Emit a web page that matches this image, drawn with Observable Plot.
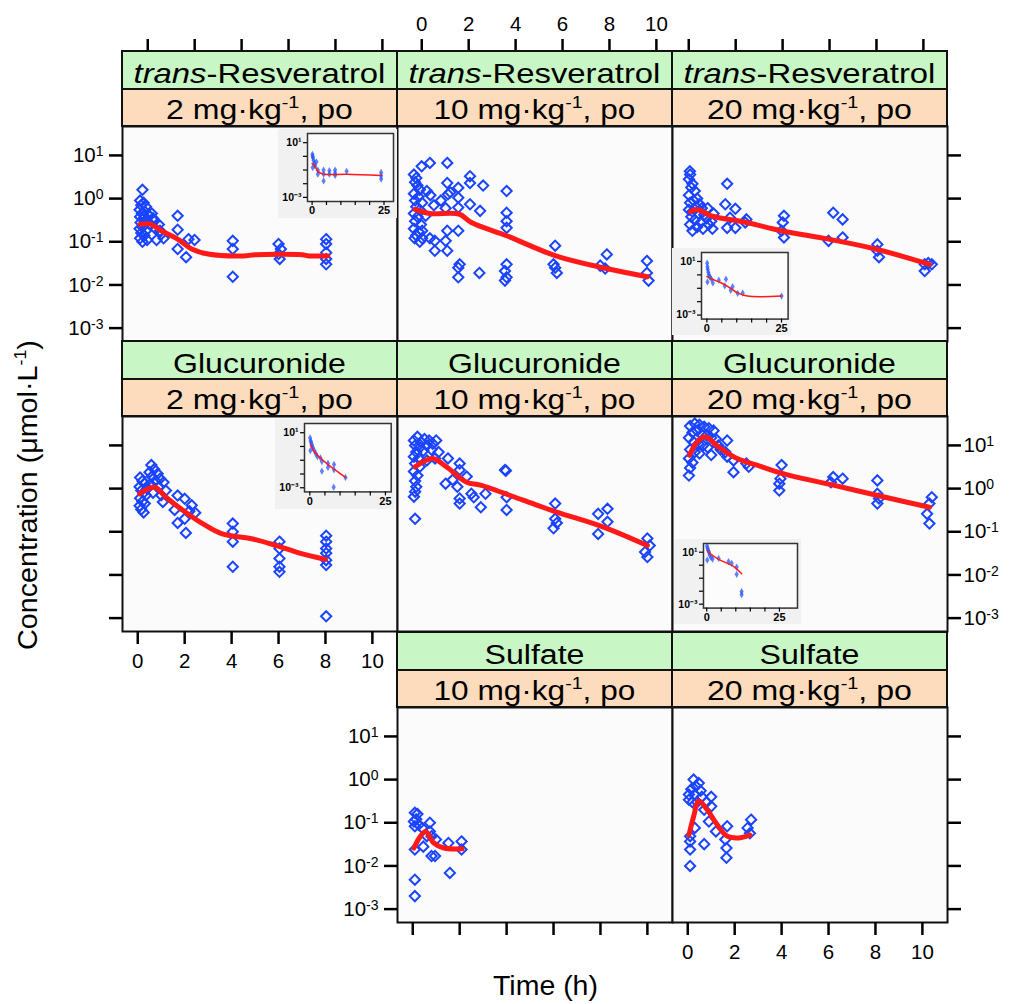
<!DOCTYPE html>
<html><head><meta charset="utf-8">
<script src="https://cdn.jsdelivr.net/npm/d3@7"></script>
<script src="https://cdn.jsdelivr.net/npm/@observablehq/plot@0.6"></script>
<style>
html,body{margin:0;padding:0;background:#fff;}
#root{position:relative;width:1014px;height:1004px;overflow:hidden;font-family:"Liberation Sans",Arial,sans-serif;}
#root svg{position:absolute;}
</style></head><body><div id="root"></div>
<script>
// ---------- tick values / labels ----------
const xTicks = [0, 2, 4, 6, 8, 10];
const yTicks = [0.001, 0.01, 0.1, 1, 10];
const insetXTicks = [0, 5, 10, 15, 20, 25];
const compounds = ["trans-Resveratrol", "Glucuronide", "Sulfate"];
const doses = ["2", "10", "20"];

// ---------- observed concentrations [time h, µmol/L] ----------
const resv2Obs = [[0.2,1.6],[0.1,0.9],[0.25,0.8],[0.15,0.7],[0.35,0.65],[0.08,0.55],[0.3,0.5],[0.18,0.45],[0.45,0.42],[0.1,0.38],[0.25,0.35],[0.4,0.3],[0.12,0.28],[0.3,0.25],[0.2,0.22],[0.08,0.2],[0.35,0.18],[0.15,0.16],[0.28,0.14],[0.1,0.12],[0.4,0.11],[0.2,0.1],
 [0.6,0.45],[0.7,0.3],[0.55,0.25],[0.75,0.2],[0.9,0.25],[1.0,0.15],[1.1,0.12],[0.8,0.11],[0.65,0.35],[0.95,0.18],
 [1.7,0.4],[1.7,0.19],[1.7,0.068],[2.06,0.044],[2.16,0.115],[2.42,0.11],
 [4.05,0.105],[4.05,0.068],[4.05,0.0155],
 [6.0,0.089],[6.1,0.068],[6.0,0.052],[6.05,0.04],
 [8.03,0.115],[8.03,0.089],[8.03,0.056],[8.03,0.04],[8.03,0.03]];
const resv10Obs = [[0.05,3.6],[0.15,3.0],[0.1,2.4],[0.2,2.0],[0.3,1.6],[0.05,1.3],[0.25,1.1],[0.1,0.9],[0.4,0.8],[0.15,0.65],[0.3,0.55],[0.05,0.45],[0.2,0.38],[0.1,0.3],[0.35,0.25],[0.05,0.2],[0.25,0.17],[0.15,0.14],[0.08,0.12],[0.3,0.1],
 [0.38,5.6],[0.73,6.7],[0.6,1.5],[0.75,1.2],[0.9,0.7],[1.2,0.9],[1.4,0.6],[0.55,0.4],
 [1.47,6.7],[1.47,2.3],[1.5,1.26],[1.6,1.4],[1.94,1.78],[1.94,1.05],[1.94,0.62],[2.44,3.3],[2.44,2.3],[3.0,2.0],[2.87,0.52],[2.44,0.74],
 [1.94,0.18],[1.47,0.18],[1.4,0.105],[0.94,0.105],[0.94,0.062],[1.47,0.062],[0.73,0.12],[0.4,0.12],[0.4,0.18],
 [2.0,0.03],[1.94,0.025],[1.94,0.015],[2.84,0.019],
 [4.0,1.5],[4.0,0.47],[4.0,0.3],[4.0,0.21],[4.0,0.03],[3.93,0.021],[4.0,0.015],[3.93,0.0126],
 [6.07,0.081],[6.0,0.03],[6.07,0.025],[6.14,0.019],
 [8.27,0.051],[7.99,0.028],[8.2,0.024],
 [9.98,0.036],[9.98,0.019],[10.05,0.0126]];
const resv20Obs = [[0.09,4.3],[0.1,3.6],[0.05,2.8],[0.2,2.2],[0.15,1.8],[0.3,1.5],[0.05,1.2],[0.4,1.0],[0.25,0.9],[0.1,0.8],[0.5,0.75],[0.35,0.65],[0.6,0.6],[0.05,0.55],[0.2,0.5],[0.45,0.45],[0.7,0.42],[0.15,0.38],[0.8,0.35],[0.3,0.32],[0.55,0.28],[0.1,0.25],[0.9,0.25],[0.4,0.22],[0.65,0.2],[0.2,0.18],[1.0,0.3],[1.1,0.45],[0.85,0.6],[1.05,0.2],
 [1.68,2.2],[1.6,0.74],[2.03,0.58],[1.68,0.21],[2.03,0.21],[1.8,0.36],
 [2.5,0.33],[2.45,0.28],
 [4.1,0.4],[4.05,0.28],[4.0,0.18],[4.1,0.126],
 [6.2,0.47],[6.6,0.33],[6.0,0.105],[6.6,0.126],
 [8.08,0.087],[8.08,0.062],[8.15,0.044],
 [10.1,0.03],[10.25,0.032],[10.4,0.03],[10.1,0.021]];
const gluc2Obs = [[0.1,1.8],[0.2,1.5],[0.3,1.3],[0.08,1.1],[0.4,1.0],[0.15,0.9],[0.25,0.8],[0.35,0.7],[0.1,0.6],[0.2,0.5],[0.3,0.45],[0.08,0.4],[0.15,0.33],[0.25,0.28],
 [0.58,3.5],[0.7,2.8],[0.5,2.4],[0.85,2.2],[0.6,1.9],[0.95,1.7],[0.75,1.5],[1.1,1.4],[0.55,1.25],[0.9,1.1],[1.2,0.9],[0.65,0.8],[1.0,0.7],[1.07,0.49],
 [1.7,0.69],[2.0,0.58],[2.3,0.41],[2.45,0.275],[1.57,0.32],[1.7,0.16],[2.0,0.2],[2.05,0.094],[2.2,0.3],
 [4.05,0.155],[4.05,0.1],[4.05,0.059],[4.05,0.0155],
 [6.04,0.059],[6.04,0.041],[6.04,0.024],[6.04,0.0155],[6.04,0.0118],
 [8.03,0.081],[8.03,0.059],[8.03,0.041],[8.03,0.032],[8.03,0.022],[8.03,0.017],[8.03,0.0011]];
const gluc10Obs = [[0.05,13],[0.2,15.8],[0.35,12],[0.5,14],[0.7,13],[0.1,10],[0.3,9],[0.6,10],[0.85,11],[1.0,13],[0.15,7],[0.45,7.5],[0.8,8],[1.1,7],[0.05,5.5],[0.25,5],[0.6,4.5],[0.95,5],[0.1,3.8],[0.3,3.2],[0.05,2.5],[0.2,2],[0.1,1.5],[0.15,1.1],[0.1,0.85],[0.05,0.65],
 [0.1,0.2],
 [1.5,5],[2.0,3.8],[2.0,2.7],[1.4,1.3],[1.9,1.1],[1.7,1.6],[2.3,1.9],
 [2.0,0.59],[2.0,0.45],[2.5,0.76],[2.6,0.63],[3.1,0.76],[2.9,0.37],
 [3.93,2.7],[3.97,2.6],[4.0,0.63],[4.0,0.32],
 [6.07,0.45],[6.07,0.2],[6.0,0.12],[6.14,0.16],
 [8.3,0.34],[7.9,0.26],[8.3,0.17],[7.9,0.089],
 [10.0,0.07],[10.1,0.048],[9.9,0.034],[10.0,0.026]];
const gluc20Obs = [[0.1,28],[0.3,32],[0.5,30],[0.7,27],[0.9,25],[1.1,22],[0.2,20],[0.4,22],[0.6,18],[0.8,17],[1.0,15],[1.2,14],[0.05,15],[0.25,12],[0.45,11],[0.65,10],[0.85,9],[1.3,10],[0.1,8],[0.3,7],[0.5,6.5],[1.0,6],[0.05,5],[0.2,4],[0.1,3],[0.05,2.0],[1.4,8],[1.6,7],
 [1.68,13],[1.68,5.5],[1.95,4.5],[1.95,2.4],
 [2.5,3.8],[2.6,3.2],
 [4.0,3.5],[3.95,1.7],[3.9,1.3],[3.9,0.9],
 [6.2,1.85],[6.6,1.7],[6.1,1.4],
 [8.08,1.55],[8.08,0.76],[8.08,0.45],[8.15,0.59],
 [10.4,0.63],[10.3,0.45],[10.2,0.26],[10.3,0.155]];
const sulf10Obs = [[0.09,0.17],[0.2,0.16],[0.05,0.107],[0.09,0.083],[0.15,0.12],[0.25,0.09],[0.4,0.076],[0.73,0.1],[0.73,0.063],[0.6,0.049],[0.8,0.049],[0.09,0.024],[0.45,0.028],[0.8,0.017],[0.95,0.017],[0.99,0.041],[1.52,0.034],[1.58,0.0069],[2.08,0.037],[2.08,0.024],[0.09,0.0048],[0.09,0.002]];
const sulf20Obs = [[0.25,1.0],[0.47,0.83],[0.35,0.7],[0.15,0.6],[0.55,0.55],[0.05,0.45],[0.05,0.34],[0.3,0.45],[0.6,0.4],[1.0,0.4],[1.0,0.24],[0.7,0.2],[0.2,0.3],[0.4,0.3],[0.8,0.3],[0.9,0.107],[1.2,0.063],[0.1,0.049],[0.1,0.037],[0.1,0.024],[0.1,0.01],[0.3,0.076],[0.7,0.032],[1.68,0.083],[1.6,0.041],[1.65,0.026],[1.65,0.0155],[2.7,0.118],[2.55,0.076],[2.65,0.057]];

// ---------- model fits (red lines) ----------
const resv2Fit = [[0.1,0.255],[0.55,0.255],[1.0,0.18],[1.7,0.115],[2.3,0.068],[3.0,0.052],[4.5,0.047],[5.0,0.05],[7.0,0.05],[7.3,0.047],[8.1,0.047]];
const resv10Fit = [[0.1,0.56],[0.73,0.45],[1.97,0.44],[2.5,0.28],[4.0,0.138],[6.1,0.047],[8.1,0.025],[10.0,0.0155]];
const resv20Fit = [[0.12,0.5],[0.4,0.56],[1.0,0.4],[2.5,0.28],[4.0,0.18],[6.0,0.115],[8.0,0.068],[10.3,0.03]];
const gluc2Fit = [[0.08,0.76],[0.72,1.07],[1.2,0.63],[2.05,0.28],[2.8,0.15],[3.6,0.089],[4.9,0.068],[5.9,0.048],[6.9,0.032],[8.0,0.023]];
const gluc10Fit = [[0.1,3.2],[0.85,5.0],[1.43,3.2],[2.3,1.4],[2.88,1.2],[4.7,0.54],[6.1,0.29],[8.1,0.13],[10.0,0.048]];
const gluc20Fit = [[0.07,5.9],[0.4,12],[0.75,15.8],[1.3,9.3],[2.1,5],[2.95,3.5],[4.1,2.2],[6.2,1.2],[8.1,0.69],[10.3,0.37]];
const sulf10Fit = [[0.05,0.026],[0.33,0.049],[0.55,0.063],[0.9,0.034],[1.33,0.026],[2.1,0.025]];
const sulf20Fit = [[0.05,0.052],[0.25,0.14],[0.47,0.32],[0.83,0.2],[1.25,0.091],[1.68,0.049],[2.25,0.045],[2.65,0.052]];

// ---------- inset data (0–25 h) ----------
const resv2InsetObs = [[0.1,1.4],[0.2,1.0],[0.3,0.8],[0.5,0.5],[0.8,0.3],[1,0.2],[0.2,0.15],[1.5,0.4],[2,0.1],[2,0.05],[4,0.1],[4,0.05],[4,0.016],[6,0.09],[6,0.05],[8,0.1],[8,0.06],[8,0.04],[12,0.08],[24,0.066],[24,0.038],[24,0.022]];
const resv2InsetFit = [[0,0.3],[1,0.2],[2,0.08],[4,0.05],[12,0.05],[24,0.04]];
const resv20InsetObs = [[0.1,7.6],[0.2,4],[0.3,2.5],[0.5,1.5],[0.7,1],[1,0.7],[1.5,0.5],[0.2,0.3],[2,0.25],[4,0.4],[6.4,0.48],[6,0.15],[8.6,0.13],[8,0.07],[10.3,0.042],[12,0.045],[25,0.026]];
const resv20InsetFit = [[0,0.74],[2,0.45],[4.7,0.26],[8,0.1],[10.3,0.045],[13.6,0.026],[25,0.026]];
const gluc2InsetObs = [[0.1,4.2],[0.3,2.5],[0.5,1.8],[0.8,1.2],[1,0.8],[1.5,0.5],[2,0.3],[2.5,0.18],[0.2,0.5],[3.5,0.15],[4,0.08],[4,0.016],[6,0.06],[6,0.03],[8,0.05],[8,0.02],[7.9,0.0011],[11.8,0.0056]];
const gluc2InsetFit = [[0.2,1.3],[1.9,0.32],[5.7,0.056],[7.9,0.024],[11.8,0.0056]];
const gluc20InsetObs = [[0.1,30],[0.3,20],[0.5,14],[0.8,10],[1,6],[1.5,4],[0.2,2.5],[2,3],[4.1,3.3],[7.5,1.9],[8.6,1.4],[10.3,0.72],[10.3,0.2],[12,0.0093],[12,0.0054]];
const gluc20InsetFit = [[0.2,13],[1.3,7.6],[4.1,2.8],[9.2,0.81],[12,0.22]];

// ---------- layout ----------
const root = document.getElementById("root");
const W = 275, H = 215;
const colLeft = [122, 397, 672];
const stripTop = [51, 341, 632];
const mL = 70, mR = 70, mT = 130, mB = 50;
const xDomain = [-0.65, 11.07];
const yDomain = [10 ** -3.31, 10 ** 1.67];
const FONT = "Liberation Sans, Arial, sans-serif";
const BLUE = "#1a44ff", RED = "#ff1a1a";
const SVGNS = "http://www.w3.org/2000/svg";

const supMap = {"-":"\u207B","0":"\u2070","1":"\u00B9","2":"\u00B2","3":"\u00B3"};
const yFmtUni = d => "10" + String(Math.round(Math.log10(d))).split("").map(c => supMap[c]).join("");
const yFmt = d => "10^" + Math.round(Math.log10(d));
const blank = () => "";

// turn "10^e" tick labels into 10 + raised exponent
function raiseExponents(svg, supSize) {
  svg.querySelectorAll("text").forEach(t => {
    const s = t.textContent;
    if (!s.startsWith("10^")) return;
    t.textContent = "10";
    const ts = document.createElementNS(SVGNS, "tspan");
    ts.setAttribute("font-size", supSize);
    ts.setAttribute("dy", "-0.42em");
    ts.textContent = s.slice(3);
    t.appendChild(ts);
  });
}

const panels = [
  {row:0,col:0,cmp:0,dose:0,obs:resv2Obs,fit:resv2Fit,top:"ticks",topDx:10,left:"labels"},
  {row:0,col:1,cmp:0,dose:1,obs:resv10Obs,fit:resv10Fit,top:"labels",topDx:9},
  {row:0,col:2,cmp:0,dose:2,obs:resv20Obs,fit:resv20Fit,top:"ticks",topDx:1,right:"ticks"},
  {row:1,col:0,cmp:1,dose:0,obs:gluc2Obs,fit:gluc2Fit,left:"ticks",bottom:"labels"},
  {row:1,col:1,cmp:1,dose:1,obs:gluc10Obs,fit:gluc10Fit},
  {row:1,col:2,cmp:1,dose:2,obs:gluc20Obs,fit:gluc20Fit,right:"labels"},
  {row:2,col:1,cmp:2,dose:1,obs:sulf10Obs,fit:sulf10Fit,left:"labels",bottom:"ticks"},
  {row:2,col:2,cmp:2,dose:2,obs:sulf20Obs,fit:sulf20Fit,right:"ticks",bottom:"labels"}
];

const insets = [
  {obs:resv2InsetObs, fit:resv2InsetFit, left:306.7, top:132.7, w:86, h:68, xd:[-1.6,28.3]},
  {obs:resv20InsetObs, fit:resv20InsetFit, left:700.7, top:251.7, w:86.6, h:66.6, xd:[-1.8,27.2]},
  {obs:gluc2InsetObs, fit:gluc2InsetFit, left:304, top:423.3, w:86.7, h:68.4, xd:[-1.75,26.9]},
  {obs:gluc20InsetObs, fit:gluc20InsetFit, left:702.7, top:542.7, w:94, h:64.6, xd:[-1.1,31.2]}
];

const fx = d => d[0], fy = d => d[1];

panels.forEach(p => {
  const L = colLeft[p.col], T = stripTop[p.row] + 75;
  const axCommon = {tickSize: 13, strokeWidth: 2.5, label: null, fontSize: 20.5, fontFamily: FONT};
  const marks = [
    Plot.frame({fill: "#fbfbfb", stroke: "none"}),
    Plot.dot(p.obs, {x: fx, y: fy, symbol: "diamond2", r: 4.6, stroke: BLUE, strokeWidth: 2}),
    Plot.line(p.fit, {x: fx, y: fy, stroke: RED, strokeWidth: 5, curve: "catmull-rom"}),
    Plot.frame({stroke: "#111", strokeWidth: 2})
  ];
  if (p.top) marks.push(Plot.axisX({...axCommon, anchor: "top", ticks: xTicks, dy: -75, dx: p.topDx, tickPadding: 8, tickFormat: p.top === "labels" ? d => String(d) : blank}));
  if (p.bottom) marks.push(Plot.axisX({...axCommon, anchor: "bottom", ticks: xTicks, tickPadding: 9, tickFormat: p.bottom === "labels" ? d => String(d) : blank}));
  if (p.left) marks.push(Plot.axisY({...axCommon, fontSize: 20.5, anchor: "left", ticks: yTicks, tickPadding: 6, tickFormat: p.left === "labels" ? yFmt : blank}));
  if (p.right) marks.push(Plot.axisY({...axCommon, fontSize: 20.5, anchor: "right", ticks: yTicks, tickPadding: 3, tickFormat: p.right === "labels" ? yFmt : blank}));
  const svg = Plot.plot({
    width: W + mL + mR, height: H + mT + mB,
    marginLeft: mL, marginRight: mR, marginTop: mT, marginBottom: mB,
    x: {domain: xDomain, axis: null},
    y: {type: "log", domain: yDomain, axis: null},
    style: {background: "transparent", overflow: "visible", color: "black", fontFamily: FONT},
    marks
  });
  raiseExponents(svg, 14);
  svg.style.left = (L - mL) + "px";
  svg.style.top = (T - mT) + "px";
  root.appendChild(svg);
});

insets.forEach(s => {
  const iL = 29, iR = 4, iT = 4, iB = 17;
  const svg = Plot.plot({
    width: s.w + iL + iR, height: s.h + iT + iB,
    marginLeft: iL, marginRight: iR, marginTop: iT, marginBottom: iB,
    x: {domain: s.xd, axis: null},
    y: {type: "log", domain: [10 ** -3.3, 10 ** 1.67], axis: null},
    style: {background: "#f1f1f1", overflow: "visible", color: "black", fontFamily: FONT},
    marks: [
      Plot.frame({fill: "#fcfcfc", stroke: "none"}),
      Plot.dot(s.obs, {x: fx, y: fy, symbol: "diamond", r: 2.2, fill: "#2a55ff", fillOpacity: 0.75}),
      Plot.line(s.fit, {x: fx, y: fy, stroke: RED, strokeWidth: 1.5, curve: "catmull-rom"}),
      Plot.frame({stroke: "#333", strokeWidth: 1.5}),
      Plot.axisX({anchor: "bottom", ticks: insetXTicks, tickSize: 4, tickPadding: 1, strokeWidth: 1.2, label: null, fontSize: 11, fontWeight: "bold", tickFormat: d => (d === 0 || d === 25) ? String(d) : ""}),
      Plot.axisY({anchor: "left", ticks: yTicks, tickSize: 4, tickPadding: 2, strokeWidth: 1.2, label: null, fontSize: 10.5, fontWeight: "bold", tickFormat: d => (d === 10 || d === 0.001) ? yFmtUni(d) : ""})
    ]
  });
  svg.style.left = (s.left - iL) + "px";
  svg.style.top = (s.top - iT) + "px";
  root.appendChild(svg);
});

// ---------- strips and titles ----------
const ov = d3.select(root).append("svg")
  .attr("width", 1014).attr("height", 1004)
  .style("left", "0px").style("top", "0px").style("pointer-events", "none")
  .attr("font-family", FONT);

function addText(x, y, parts, size, target, rotate) {
  const t = ov.append("text").attr("font-size", size).attr("fill", "#000").attr("text-anchor", "start");
  let shifted = false;
  parts.forEach(p => {
    const ts = t.append("tspan").text(p.s);
    if (p.i) ts.attr("font-style", "italic");
    if (p.sup) { ts.attr("font-size", size * 0.62).attr("dy", -size * 0.4); shifted = true; }
    else if (shifted) { ts.attr("dy", size * 0.4); shifted = false; }
  });
  const w = t.node().getComputedTextLength();
  const k = target / w;
  t.attr("transform", `translate(${x},${y}) rotate(${rotate || 0}) scale(${k},1) translate(${-w / 2},0)`);
}

const cmpParts = [
  [{s: "trans", i: true}, {s: "-Resveratrol"}],
  [{s: compounds[1]}],
  [{s: compounds[2]}]
];
const cmpWidth = [252, 173, 100];
const doseWidth = [187, 202, 205];

panels.forEach(p => {
  const L = colLeft[p.col], T = stripTop[p.row];
  ov.append("rect").attr("x", L).attr("y", T).attr("width", W).attr("height", 38)
    .attr("fill", "#c8f7c5").attr("stroke", "#111").attr("stroke-width", 2);
  ov.append("rect").attr("x", L).attr("y", T + 38).attr("width", W).attr("height", 37)
    .attr("fill", "#fcdcbd").attr("stroke", "#111").attr("stroke-width", 2);
  addText(L + W / 2, T + 32, cmpParts[p.cmp], 27, cmpWidth[p.cmp]);
  addText(L + W / 2, T + 67.5, [{s: doses[p.dose] + " mg\u00B7kg"}, {s: "-1", sup: true}, {s: ", po"}], 27, doseWidth[p.dose]);
});

addText(545.5, 995, [{s: "Time (h)"}], 28, 105);
addText(37, 495, [{s: "Concentration (\u03BCmol\u00B7L"}, {s: "-1", sup: true}, {s: ")"}], 28, 310, -90);
</script></body></html>
